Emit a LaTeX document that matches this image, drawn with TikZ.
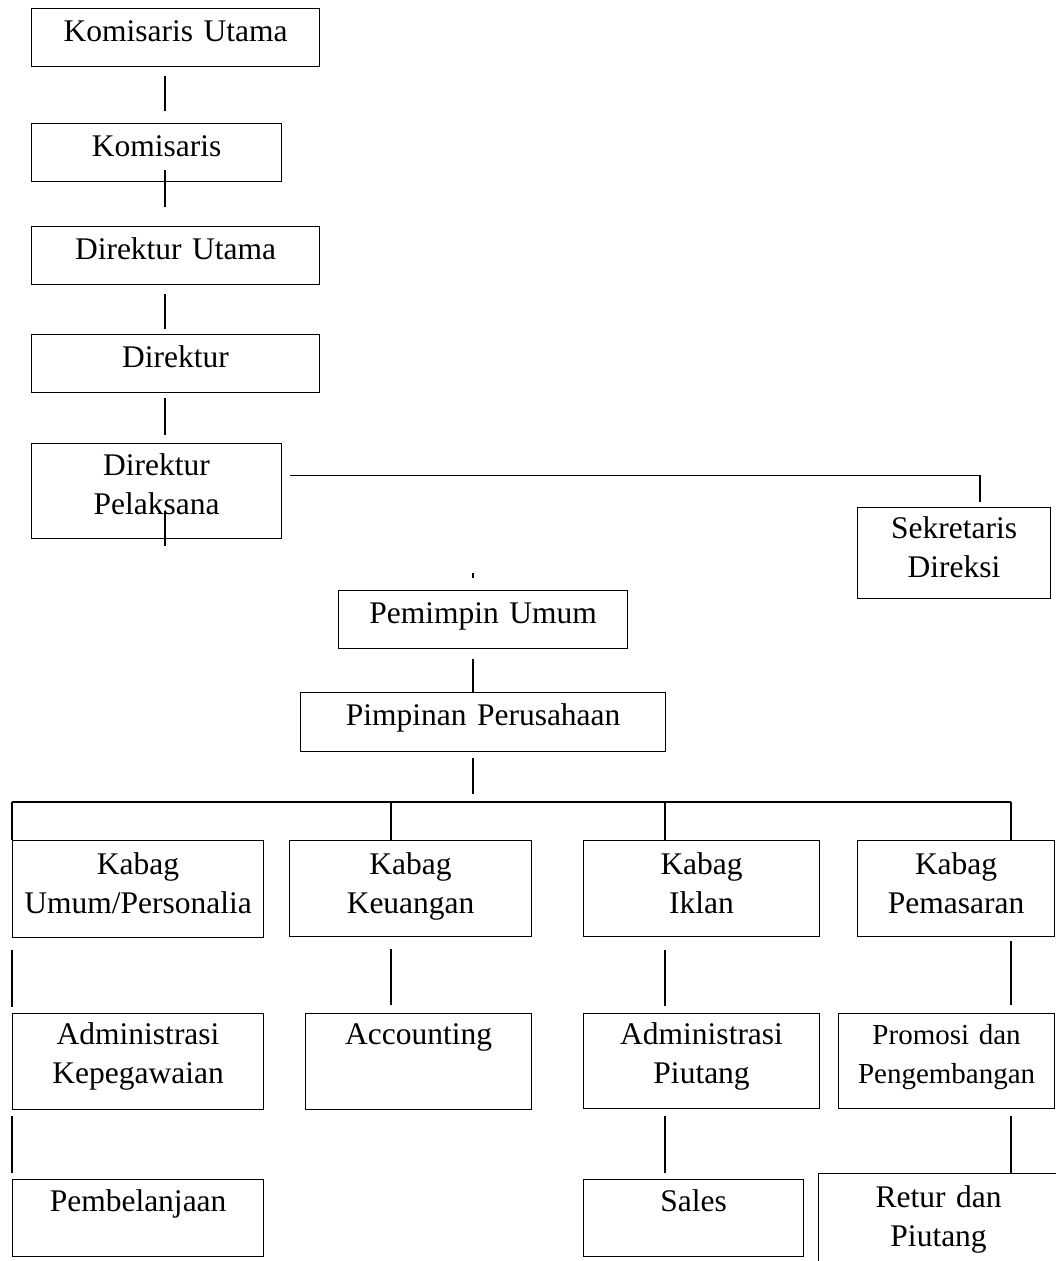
\documentclass[tikz,border=0pt]{standalone}
\usepackage{fontspec}
\setmainfont{Liberation Serif}
\usepackage{tikz}
\usepackage{xcolor}

% vertical connector: upper node, lower node, column, gap below upper, gap above lower
\newcommand{\orgline}[5]{%
  \draw[shorten <=#4, shorten >=#5] (#1.south -| #3) -- (#2.north -| #3);}

\begin{document}
\begin{tikzpicture}[x=1pt, y=-1pt, line width=1.2pt,
  box/.style={draw, anchor=north west, align=center, inner xsep=0pt, inner ysep=0pt,
    font=\fontsize{31.5}{38.5}\selectfont},
  one/.style={text height=33pt, text depth=25pt},
  kabag/.style={text height=34pt, text depth=62pt},
  staff/.style={text height=31pt, text depth=65pt},
  last/.style={text height=32pt, text depth=45pt}]

\useasboundingbox (0,0) rectangle (1056,1261);

% --- helper columns ---
\coordinate (spine) at (165,0);
\coordinate (mid) at (473,0);
\coordinate (secx) at (980,0);
\coordinate (cola) at (12,802);
\coordinate (colb) at (391,802);
\coordinate (colc) at (665,802);
\coordinate (cold) at (1011,802);

% --- board and directors ---
\node[box, one, text width=288pt] (kutama) at (31,8) {Komisaris Utama};
\node[box, one, text width=250pt] (komisaris) at (31,123) {Komisaris};
\node[box, one, text width=288pt] (dirutama) at (31,226) {Direktur Utama};
\node[box, one, text width=288pt] (direktur) at (31,334) {Direktur};
\node[box, text height=32pt, text depth=63pt, text width=250pt] (dirpel) at (31,443) {Direktur\\Pelaksana};
\node[box, text height=31pt, text depth=60pt, text width=193pt] (sekdir) at (857,507) {Sekretaris\\Direksi};

% --- management ---
\node[box, one, text width=289pt] (pemimpin) at (338,590) {Pemimpin Umum};
\node[box, one, text depth=26pt, text width=365pt] (pimpinan) at (300,692) {Pimpinan Perusahaan};

% --- heads of department ---
\node[box, kabag, text depth=63pt, text width=251pt] (kumum) at (12,840) {Kabag\\Umum/Personalia};
\node[box, kabag, text width=242pt] (kkeu) at (289,840) {Kabag\\Keuangan};
\node[box, kabag, text width=236pt] (kiklan) at (583,840) {Kabag\\Iklan};
\node[box, kabag, text width=197pt] (kpemas) at (857,840) {Kabag\\Pemasaran};

% --- staff ---
\node[box, staff, text width=251pt] (adkep) at (12,1013) {Administrasi\\Kepegawaian};
\node[box, staff, text width=226pt] (acc) at (305,1013) {Accounting};
\node[box, staff, text depth=64pt, text width=236pt] (adpiu) at (583,1013) {Administrasi\\Piutang};
\node[box, staff, text depth=64pt, text width=216pt, font=\fontsize{29}{38.5}\selectfont] (promosi) at (838,1013) {Promosi dan\\Pengembangan};
\node[box, last, text width=251pt] (pembel) at (12,1179) {Pembelanjaan};
\node[box, last, text width=220pt] (sales) at (583,1179) {Sales};
\node[box, text height=34pt, text depth=76pt, text width=240pt] (retur) at (818,1173) {Retur dan\\Piutang};

% --- top chain ---
\orgline{kutama}{komisaris}{spine}{9pt}{12pt}
\orgline{komisaris}{dirutama}{spine}{-12pt}{19pt}
\orgline{dirutama}{direktur}{spine}{9pt}{5pt}
\orgline{direktur}{dirpel}{spine}{5pt}{8pt}
\draw ([yshift=28pt]dirpel.south -| spine) -- ([yshift=-7pt]dirpel.south -| spine);
\draw ([yshift=17pt]pemimpin.north -| mid) -- ([yshift=12pt]pemimpin.north -| mid);
\draw ([xshift=8pt,yshift=15.5pt]dirpel.east) -| ([yshift=5pt]sekdir.north -| secx);

% --- management to departments ---
\orgline{pemimpin}{pimpinan}{mid}{10pt}{0pt}
\draw[shorten <=6pt] (pimpinan.south -| mid) -- ([yshift=8pt]cola -| mid);
\draw (cola) -- (cold);
\draw (cola) -- (kumum.north -| cola);
\draw (colb) -- (kkeu.north -| colb);
\draw (colc) -- (kiklan.north -| colc);
\draw (cold) -- (kpemas.north -| cold);

% --- departments to staff ---
\orgline{kumum}{adkep}{cola}{12pt}{6pt}
\orgline{kkeu}{acc}{colb}{12pt}{8pt}
\orgline{kiklan}{adpiu}{colc}{13pt}{7pt}
\orgline{kpemas}{promosi}{cold}{4pt}{8pt}
\orgline{adkep}{pembel}{cola}{6pt}{6pt}
\orgline{adpiu}{sales}{colc}{7pt}{6pt}
\orgline{promosi}{retur}{cold}{7pt}{0pt}

\end{tikzpicture}
\end{document}
